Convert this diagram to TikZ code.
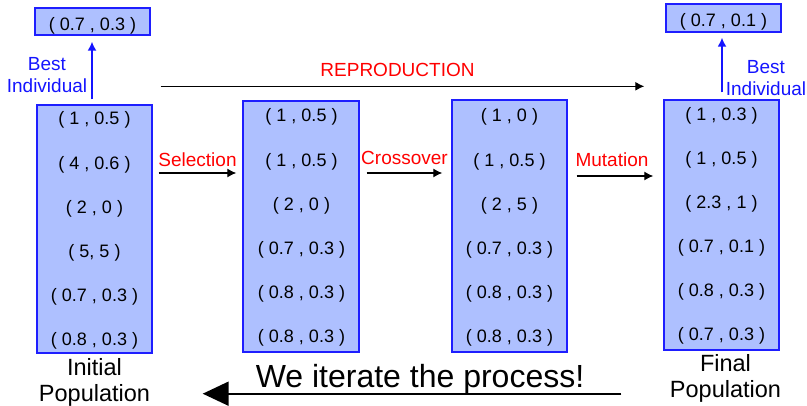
\documentclass[tikz,border=0pt]{standalone}
\usepackage{fontspec}
\setmainfont{Liberation Sans}
\usetikzlibrary{arrows.meta,calc}
\definecolor{boxfill}{RGB}{174,192,255}
\definecolor{boxline}{RGB}{30,30,255}
\definecolor{lblblue}{RGB}{20,20,255}
\definecolor{opred}{RGB}{255,0,0}
\begin{document}
\begin{tikzpicture}[x=1pt,y=-1pt,
  popbox/.style={draw=boxline, fill=boxfill, line width=1.4pt, inner sep=0pt},
  entry/.style={anchor=base, inner sep=0pt, font=\fontsize{18}{21}\selectfont},
  oplabel/.style={anchor=base, inner sep=0pt, text=opred, font=\fontsize{19}{23}\selectfont},
  bestlabel/.style={anchor=north, inner sep=0pt, align=center, text=lblblue, font=\fontsize{19}{22}\selectfont},
  poplabel/.style={anchor=north, inner sep=0pt, align=center, font=\fontsize{23.5}{26}\selectfont},
  oparrow/.style={line width=1.2pt, -{Latex[length=9pt,width=9pt]}},
  bestarrow/.style={draw=lblblue, line width=1.5pt, -{Latex[length=9pt,width=9pt]}},
  iterarrow/.style={line width=2pt, -{Triangle[length=26pt,width=24pt]}}
]
\useasboundingbox (0,0) rectangle (807,406);

% population boxes
\node[popbox, minimum width=115pt, minimum height=248pt] (b1) at (94.5,229) {};
\node[popbox, minimum width=116pt, minimum height=251pt] (b2) at (301,226.5) {};
\node[popbox, minimum width=115pt, minimum height=252pt] (b3) at (509.5,226) {};
\node[popbox, minimum width=115pt, minimum height=250pt] (b4) at (721.5,225) {};

% best individual boxes
\node[popbox, minimum width=115pt, minimum height=27pt] (t1) at (92.5,21.5) {};
\node[popbox, minimum width=115pt, minimum height=28pt] (t4) at (723.5,18) {};
\node[entry] (t1v) at (92.5,31) {( 0.7 , 0.3 )};
\node[entry] (t4v) at (723.5,27) {( 0.7 , 0.1 )};

% entries
\foreach \t [count=\i] in {{( 1 , 0.5 )},{( 4 , 0.6 )},{( 2 , 0 )},{( 5, 5 )},{( 0.7 , 0.3 )},{( 0.8 , 0.3 )}}
  \node[entry] (b1e\i) at (94.5,{125+44.2*(\i-1)}) {\t};
\foreach \t [count=\i] in {{( 1 , 0.5 )},{( 1 , 0.5 )},{( 2 , 0 )},{( 0.7 , 0.3 )},{( 0.8 , 0.3 )},{( 0.8 , 0.3 )}}
  \node[entry] (b2e\i) at (301.5,{122+44.2*(\i-1)}) {\t};
\foreach \t [count=\i] in {{( 1 , 0 )},{( 1 , 0.5 )},{( 2 , 5 )},{( 0.7 , 0.3 )},{( 0.8 , 0.3 )},{( 0.8 , 0.3 )}}
  \node[entry] (b3e\i) at (509.5,{122+44.2*(\i-1)}) {\t};
\foreach \t [count=\i] in {{( 1 , 0.3 )},{( 1 , 0.5 )},{( 2.3 , 1 )},{( 0.7 , 0.1 )},{( 0.8 , 0.3 )},{( 0.7 , 0.3 )}}
  \node[entry] (b4e\i) at (721.5,{121+44*(\i-1)}) {\t};

% population labels
\node[poplabel] (initlbl) at ($(b1.south)+(0,5)$) {Initial\\Population};
\node[poplabel] (finallbl) at ($(b4.south)+(4,4)$) {Final\\Population};

% best individual labels
\node[bestlabel] (bestl) at (47,57) {Best\\Individual};
\node[bestlabel] (bestr) at (766,60) {Best\\Individual};

% operator arrows
\draw[oparrow] ($(b1.east)+(6,-56)$) -- ($(b2.west)+(-6,-53.5)$)
  node[oplabel, midway, yshift=6pt] (sellbl) {Selection};
\draw[oparrow] ($(b2.east)+(7,-53.5)$) -- ($(b3.west)+(-9,-53)$)
  node[oplabel, midway, yshift=8pt] (crosslbl) {Crossover};
\draw[oparrow] ($(b3.east)+(9,-50)$) -- ($(b4.west)+(-10,-49)$)
  node[oplabel, midway, xshift=-3pt, yshift=9pt] (mutlbl) {Mutation};
\draw[oparrow] ($(b1.north east)+(8,-18)$) -- ($(b4.north west)+(-19,-13)$)
  node[oplabel, midway, xshift=-5pt, yshift=10pt] (replbl) {REPRODUCTION};

% best individual arrows
\draw[bestarrow] ($(b1.north)+(-2.5,-5)$) -- ($(t1.south)+(-0.5,6)$);
\draw[bestarrow] ($(b4.north)+(0.5,-7)$) -- ($(t4.south)+(-1.5,5)$);

% iterate arrow
\draw[iterarrow] ($(b4.south west)+(-42,43)$) -- ($(b1.south east)+(50,40)$)
  node[midway, anchor=base, inner sep=0pt, xshift=8pt, yshift=6pt, font=\fontsize{32}{36}\selectfont] (iterlbl) {We iterate the process!};
\end{tikzpicture}
\end{document}
